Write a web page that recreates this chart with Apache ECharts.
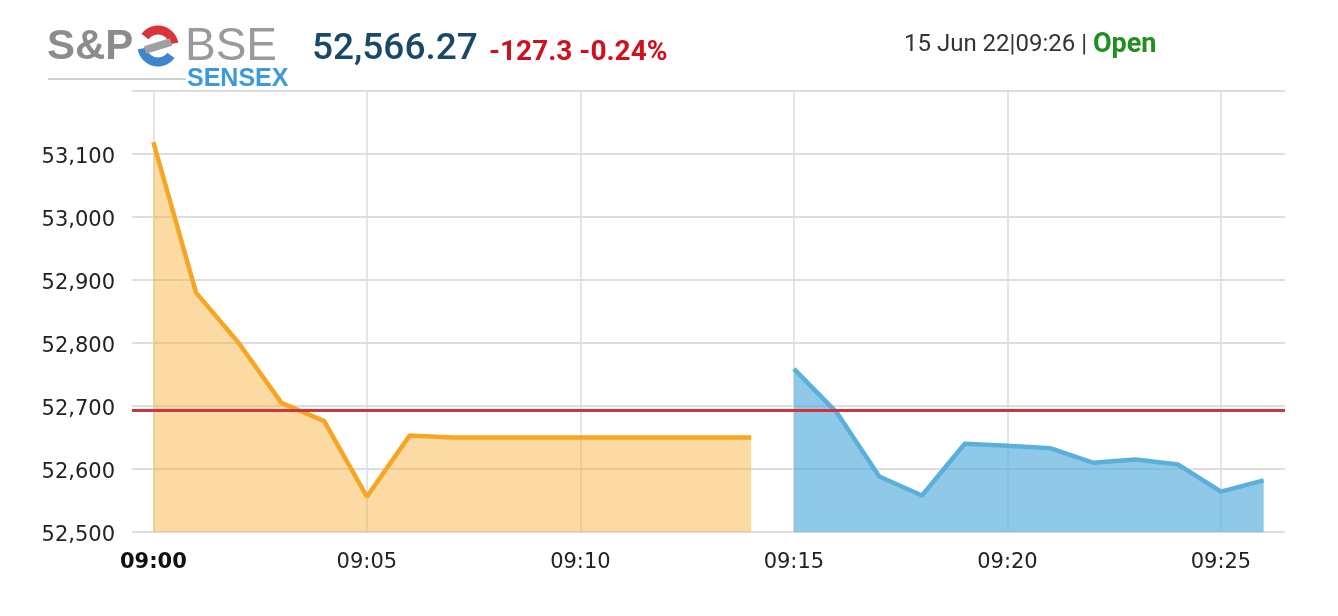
<!DOCTYPE html>
<html>
<head>
<meta charset="utf-8">
<script src="https://cdn.jsdelivr.net/npm/echarts@6/dist/echarts.min.js"></script>
<style>
html,body{margin:0;padding:0;background:#fff;}
#chart{width:1338px;height:616px;}
</style>
</head>
<body>
<div id="chart"></div>
<script>
var times = ['09:00','09:01','09:02','09:03','09:04','09:05','09:06','09:07','09:08','09:09','09:10','09:11','09:12','09:13','09:14','09:15','09:16','09:17','09:18','09:19','09:20','09:21','09:22','09:23','09:24','09:25','09:26'];
var preOpenValues = [53119, 52880, 52800, 52705, 52676, 52556, 52653, 52650, 52650, 52650, 52650, 52650, 52650, 52650, 52650];
var openValues = [52759, 52690, 52588, 52558, 52640, 52637, 52633, 52610, 52615, 52607, 52564, 52582];
var prevClose = 52693.57;
var yTicks = [52500, 52600, 52700, 52800, 52900, 53000, 53100, 53200];
var headerValue = '52,566.27';
var headerChange = '-127.3 -0.24%';
var headerDate = '15 Jun 22|09:26 | ';
var headerStatus = 'Open';

var preSeries = times.map(function (t, i) { return i < preOpenValues.length ? preOpenValues[i] : '-'; });
var openSeries = times.map(function (t, i) { var j = i - preOpenValues.length; return j >= 0 ? openValues[j] : '-'; });

var chart = echarts.init(document.getElementById('chart'));
var labelFont = 'DejaVu Sans';
chart.setOption({
  animation: false,
  grid: { left: 132, right: 53, top: 91, bottom: 84, containLabel: false },
  xAxis: {
    type: 'category',
    data: times,
    boundaryGap: true,
    axisLine: { show: false },
    axisTick: { show: false },
    axisLabel: {
      interval: 4,
      margin: 20,
      color: '#222',
      fontFamily: labelFont,
      fontSize: 21,
      formatter: function (v, i) { return i === 0 ? '{b|' + v + '}' : v; },
      rich: { b: { fontWeight: 'bold', fontFamily: labelFont, fontSize: 21, color: '#111' } }
    },
    splitLine: { show: true, interval: 4, alignWithLabel: true, lineStyle: { color: '#dcdcdc', width: 1.5 } }
  },
  yAxis: {
    type: 'value',
    min: yTicks[0],
    max: yTicks[yTicks.length - 1],
    interval: 100,
    axisLine: { show: false },
    axisTick: { show: false },
    axisLabel: {
      showMaxLabel: false,
      margin: 17,
      color: '#222',
      fontFamily: labelFont,
      fontSize: 21,
      formatter: function (v) { return '{v|' + v.toLocaleString('en-US') + '}'; },
      rich: { v: { fontFamily: labelFont, fontSize: 21, color: '#222', padding: [7, 0, 0, 0] } }
    },
    splitLine: { lineStyle: { color: '#dedede', width: 2 } }
  },
  series: [
    {
      type: 'line', data: [], z: 1, silent: true,
      markLine: {
        silent: true, symbol: 'none', label: { show: false },
        lineStyle: { color: '#d1333c', width: 3, type: 'solid' },
        data: [{ yAxis: prevClose }]
      }
    },
    {
      type: 'line', data: preSeries, z: 3, showSymbol: false, connectNulls: false,
      lineStyle: { color: '#f6a623', width: 4.5 },
      itemStyle: { color: '#f6a623' },
      areaStyle: { color: '#f6a623', opacity: 0.42 }
    },
    {
      type: 'line', data: openSeries, z: 3, showSymbol: false, connectNulls: false,
      lineStyle: { color: '#5aafdb', width: 4.5 },
      itemStyle: { color: '#5aafdb' },
      areaStyle: { color: '#5aafdb', opacity: 0.68 }
    }
  ],
  graphic: [
    { type: 'line', shape: { x1: 48, y1: 79, x2: 186, y2: 79 }, style: { stroke: '#cfcfcf', lineWidth: 2 } },
    { type: 'text', x: 47, y: 47, style: { text: 'S&P', font: 'bold 42px "Liberation Sans"', fill: '#8c8c8c', verticalAlign: 'middle' } },
    { type: 'arc', shape: { cx: 158, cy: 46, r: 16, startAngle: -Math.PI * 0.8, endAngle: -Math.PI * 0.05 }, style: { stroke: '#d9343c', lineWidth: 9, fill: null } },
    { type: 'arc', shape: { cx: 158, cy: 46, r: 16, startAngle: Math.PI * 0.2, endAngle: Math.PI * 0.95 }, style: { stroke: '#3f86cf', lineWidth: 9, fill: null } },
    { type: 'line', shape: { x1: 145, y1: 50, x2: 171, y2: 42 }, style: { stroke: '#a0a0a0', lineWidth: 8 } },
    { type: 'text', x: 185, y: 47, style: { text: 'BSE', font: '300 46px "Liberation Sans"', fill: '#9a9a9a', verticalAlign: 'middle' } },
    { type: 'text', x: 187, y: 79, style: { text: 'SENSEX', font: 'bold 25px "Liberation Sans Narrow", "Liberation Sans"', fill: '#3d9ad8', verticalAlign: 'middle' } },
    { type: 'text', x: 312, y: 50, style: { text: headerValue, font: '500 37px Roboto', fill: '#1a4869', verticalAlign: 'middle' } },
    { type: 'text', x: 489, y: 53, style: { text: headerChange, font: 'bold 28px Roboto', fill: '#d0101e', verticalAlign: 'middle' } },
    { type: 'text', x: 904, y: 45, style: {
      text: '{a|' + headerDate + '}{b|' + headerStatus + '}', verticalAlign: 'middle',
      rich: { a: { fontFamily: 'Roboto', fontSize: 24, fill: '#333' }, b: { fontFamily: 'Roboto', fontWeight: 'bold', fontSize: 27, fill: '#1f8f1f' } }
    } }
  ]
});
</script>
</body>
</html>
